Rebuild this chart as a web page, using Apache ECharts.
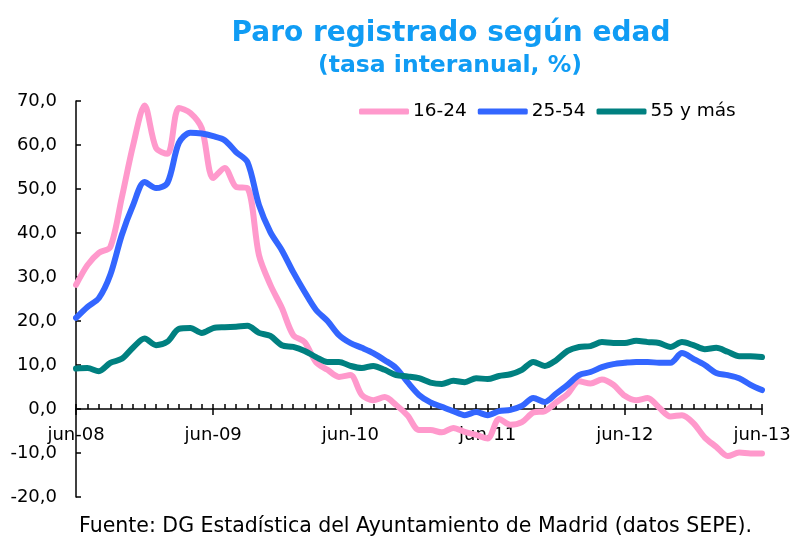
<!DOCTYPE html>
<html>
<head>
<meta charset="utf-8">
<script src="https://cdn.jsdelivr.net/npm/echarts@6/dist/echarts.min.js"></script>
<style>
  html, body { margin: 0; padding: 0; background: #fff; }
  #chart { width: 794px; height: 536px; }
</style>
</head>
<body>
<div id="chart"></div>
<script>
// Paro registrado según edad, tasa interanual (%), jun-08 .. jun-13
const monthNames = ['jun', 'jul', 'ago', 'sep', 'oct', 'nov', 'dic', 'ene', 'feb', 'mar', 'abr', 'may'];
const startYears = ['08', '09', '10', '11', '12'];
const lastMonth = 'jun-13';

const youth = [ // 16-24
  28.2, 32.7, 35.5, 36.8, 48, 60, 69, 59.3, 58, 68.4, 67.3, 63.8,
  52.5, 54.8, 50.5, 50.2, 35, 28.2, 23, 16.8, 15.2, 10.6, 8.9, 7.3,
  7.7, 3.2, 2, 2.7, 0.9, -1.5, -4.8, -4.8, -5.3, -4.3, -5.2, -5.9,
  -6.7, -2.3, -3.6, -3, -0.8, -0.5, 1.5, 3.4, 6.3, 5.8, 6.7, 5.5,
  3, 2, 2.5, 0.3, -1.7, -1.4, -3.2, -6.5, -8.6, -10.7, -9.9, -10.1,
  -10.1
];
const adults = [ // 25-54
  20.7, 23.2, 25.2, 30.5, 39.5, 46.4, 51.6, 50.2, 51.4, 60.5, 62.8, 62.6,
  62, 61.1, 58.4, 56.1, 46.4, 40.2, 36.1, 31.1, 26.6, 22.5, 20, 16.8,
  15, 13.9, 12.7, 11.1, 9.3, 6.1, 3.2, 1.5, 0.5, -0.5, -1.4, -0.7,
  -1.4, -0.5, -0.2, 0.7, 2.5, 1.6, 3.5, 5.5, 7.7, 8.4, 9.5, 10.2,
  10.5, 10.7, 10.7, 10.5, 10.5, 12.7, 11.4, 10, 8.2, 7.7, 7, 5.5,
  4.3
];
const seniors = [ // 55 y más
  9.2, 9.3, 8.6, 10.5, 11.4, 14, 16, 14.5, 15.3, 18.2, 18.4, 17.3,
  18.4, 18.6, 18.7, 18.9, 17.3, 16.6, 14.5, 14.1, 13.2, 11.8, 10.7, 10.7,
  9.8, 9.3, 9.8, 8.9, 7.7, 7.4, 7, 6, 5.7, 6.4, 6.1, 7,
  6.8, 7.5, 7.9, 8.9, 10.7, 9.8, 11.1, 13.2, 14.1, 14.3, 15.2, 15,
  15, 15.5, 15.2, 15, 14.1, 15.2, 14.5, 13.6, 13.9, 13, 12, 12,
  11.8
];

const categories = [];
startYears.forEach(yy => {
  monthNames.forEach((m, j) => {
    const y = j < 7 ? yy : String(Number(yy) + 1).padStart(2, '0');
    categories.push(m + '-' + y);
  });
});
categories.push(lastMonth);

const colors = {
  youth: '#FF99CC',
  adults: '#3366FF',
  seniors: '#008080',
  title: '#109CF4',
  axis: '#000000'
};
const font = 'DejaVu Sans, Verdana, sans-serif';

// grid: y=70 at 101px, y=-20 at 497px -> zero line sits 88px above the bottom
const gridTop = 101, gridBottom = 39, zeroFromBottom = 88;
const plotHeight = 536 - gridTop - gridBottom;

const chart = echarts.init(document.getElementById('chart'));

function lineSeries(name, data, color) {
  return {
    name: name,
    type: 'line',
    data: data,
    smooth: 0.3,
    showSymbol: false,
    lineStyle: { color: color, width: 6, cap: 'round', join: 'round' },
    itemStyle: { color: color }
  };
}

chart.setOption({
  animation: false,
  backgroundColor: '#fff',
  textStyle: { fontFamily: font },
  title: [
    {
      text: 'Paro registrado según edad',
      left: 446, top: 15, textAlign: 'center',
      textStyle: { color: colors.title, fontSize: 28, fontWeight: 'bold', fontFamily: font }
    },
    {
      text: '(tasa interanual, %)',
      left: 445, top: 49, textAlign: 'center',
      textStyle: { color: colors.title, fontSize: 23.5, fontWeight: 'bold', fontFamily: font }
    },
    {
      text: 'Fuente: DG Estadística del Ayuntamiento de Madrid (datos SEPE).',
      left: 74, top: 511,
      textStyle: { color: '#000', fontSize: 20.5, fontWeight: 'normal', fontFamily: font }
    }
  ],
  legend: {
    left: 354, top: 97,
    itemWidth: 50, itemHeight: 6, itemGap: 11,
    icon: 'roundRect',
    textStyle: { color: '#000', fontSize: 18.5, fontFamily: font, padding: [0, 0, 0, -1] },
    data: ['16-24', '25-54', '55 y más']
  },
  grid: { left: 76, right: 32, top: gridTop, bottom: gridBottom, containLabel: false },
  xAxis: [
    {
      type: 'category',
      data: categories,
      boundaryGap: false,
      position: 'bottom',
      offset: -zeroFromBottom,
      axisLine: { onZero: false, lineStyle: { color: colors.axis, width: 1.5 } },
      axisTick: { show: true, interval: 0, inside: true, length: 5, lineStyle: { color: colors.axis, width: 1.5 } },
      axisLabel: { interval: 11, color: '#000', fontSize: 18, margin: 17, fontFamily: font },
      splitLine: { show: false }
    },
    {
      // major yearly ticks crossing the zero line
      type: 'category',
      data: categories,
      boundaryGap: false,
      position: 'top',
      offset: -(plotHeight - zeroFromBottom),
      axisLine: { show: false, onZero: false },
      axisTick: { show: true, interval: 11, inside: true, length: 6, lineStyle: { color: colors.axis, width: 1.5 } },
      axisLabel: { show: false },
      splitLine: { show: false }
    }
  ],
  yAxis: {
    type: 'value',
    min: -20, max: 70, interval: 10,
    axisLine: { show: true, lineStyle: { color: colors.axis, width: 1.5 } },
    axisTick: { show: true, inside: true, length: 5, lineStyle: { color: colors.axis, width: 1.5 } },
    axisLabel: {
      color: '#000', fontSize: 18, margin: 19, fontFamily: font,
      formatter: v => v.toFixed(1).replace('.', ',')
    },
    splitLine: { show: false }
  },
  series: [
    lineSeries('16-24', youth, colors.youth),
    lineSeries('25-54', adults, colors.adults),
    lineSeries('55 y más', seniors, colors.seniors)
  ]
});
</script>
</body>
</html>
